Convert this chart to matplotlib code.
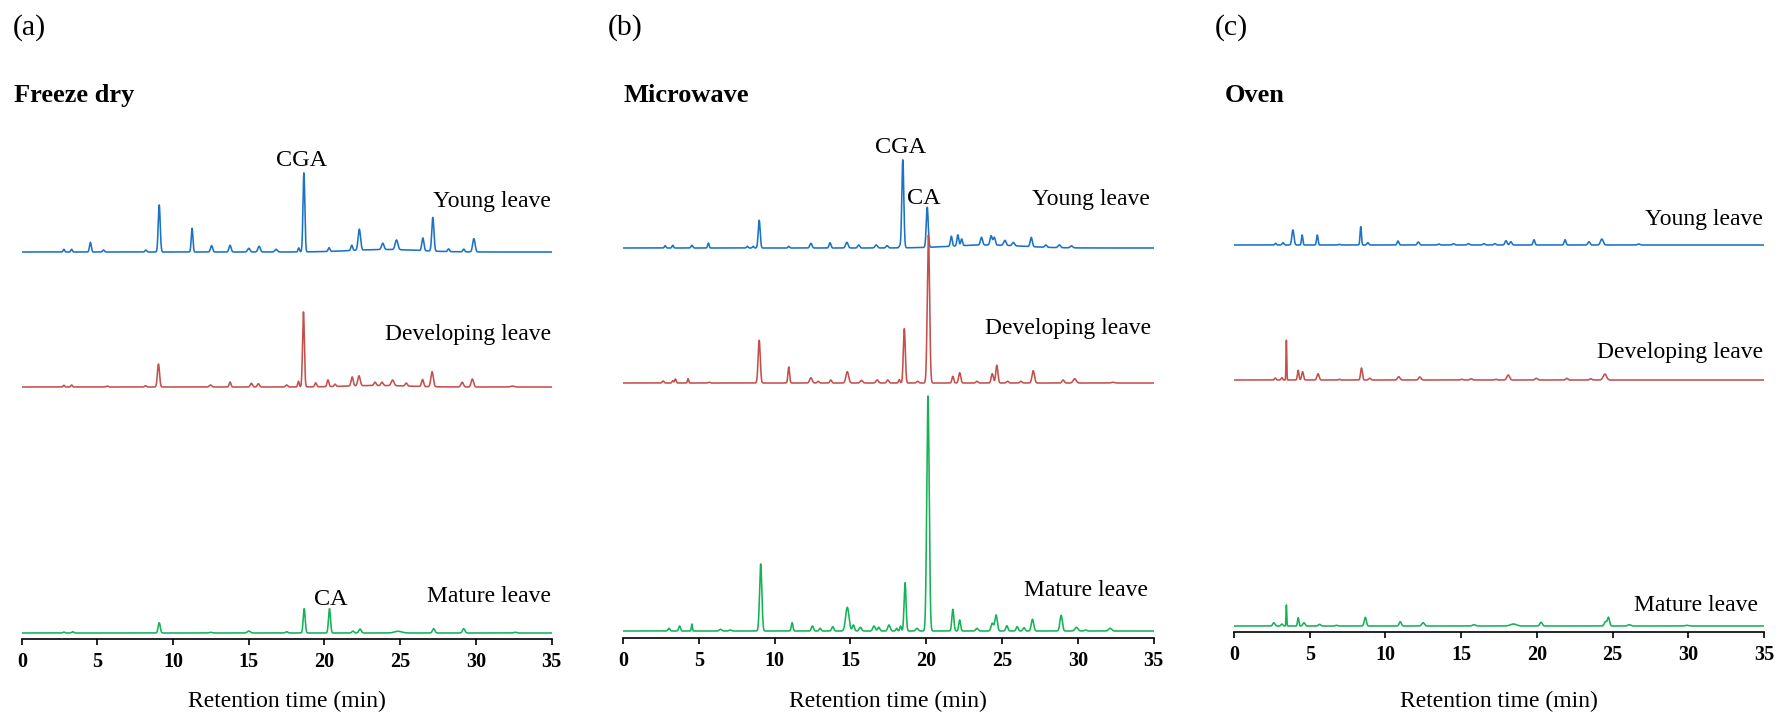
import numpy as np
import matplotlib
matplotlib.use("Agg")
import matplotlib.pyplot as plt

# peak tables: (retention time min, height a.u., sigma min)
freeze_young = [(2.78, 2.7, .05), (3.29, 2.7, .05), (4.53, 9.7, .06), (5.4, 2, .06), (8.2, 2, .06),
                (9.08, 47, .065), (11.25, 23.7, .055), (12.54, 6.3, .07), (13.76, 6.7, .07), (15.0, 3.7, .08),
                (15.68, 5.7, .08), (16.8, 2.7, .08), (18.3, 4, .05), (18.64, 79, .06), (20.3, 3.7, .06),
                (21.8, 5.3, .06), (22.3, 21, .08), (23.85, 6.3, .08), (24.76, 9.7, .09), (26.5, 12.7, .07),
                (27.16, 33.7, .07), (28.2, 2.7, .06), (29.2, 2.7, .06), (29.87, 13.3, .08), (24.0, 2.5, 2.2)]
freeze_dev = [(2.78, 1.7, .05), (3.29, 2, .05), (5.64, 1, .06), (8.17, 1.3, .06), (9.03, 23, .07),
              (12.47, 2, .08), (13.76, 5, .06), (15.17, 3.7, .07), (15.63, 3.3, .07), (17.5, 2, .07),
              (18.28, 5.7, .05), (18.61, 75, .06), (19.42, 4, .06), (20.23, 6.7, .06), (20.7, 2.3, .06),
              (21.83, 9, .07), (22.28, 10, .08), (23.34, 3.3, .07), (23.8, 3.3, .07), (24.5, 5.7, .09),
              (25.4, 3, .07), (26.48, 7, .07), (27.11, 15, .08), (29.1, 4.7, .08), (29.77, 8, .08),
              (32.4, 1, .1), (23.5, 1.5, 2.0)]
freeze_mature = [(2.78, 1, .05), (3.36, 1.3, .06), (9.08, 10.3, .07), (12.47, .7, .08), (15.0, 2, .1),
                 (17.5, 1.3, .08), (18.66, 24.3, .065), (20.33, 24.3, .065), (21.88, 2, .07), (22.35, 4, .08),
                 (24.86, 1.7, .25), (27.21, 4.3, .08), (29.2, 4.3, .08), (32.6, .7, .1)]

micro_young = [(2.78, 2.3, .05), (3.28, 2.7, .05), (4.54, 2.7, .06), (5.63, 5, .05), (8.2, 1.7, .05),
               (8.58, 1.7, .05), (8.98, 27.7, .065), (10.93, 1.7, .05), (12.39, 4.7, .07), (13.65, 5.3, .06),
               (14.76, 5.7, .08), (15.54, 3, .07), (16.7, 3, .08), (17.41, 2.3, .07), (18.24, 1.7, .05),
               (18.45, 88, .065), (20.06, 40, .065), (21.65, 10, .06), (22.08, 11, .06), (22.33, 6.7, .06),
               (23.64, 7.7, .07), (24.27, 9.3, .07), (24.48, 7.7, .07), (25.18, 5, .08), (25.74, 3.3, .08),
               (26.92, 9.3, .07), (27.88, 2.3, .07), (28.77, 2.7, .08), (29.57, 2, .08), (24.0, 3, 2.3)]
micro_dev = [(2.65, 2, .06), (3.28, 2.3, .05), (3.46, 4, .05), (4.29, 4.3, .04), (5.68, .7, .06),
             (8.98, 42.7, .07), (10.93, 16, .055), (12.39, 5.3, .08), (12.87, 1.7, .06), (13.7, 3, .06),
             (14.79, 11.3, .09), (15.72, 2.7, .08), (16.76, 3, .08), (17.46, 3, .07), (18.22, 3.3, .05),
             (18.55, 54.3, .065), (19.43, 1.7, .07), (20.14, 148, .075), (21.75, 6.7, .06), (22.2, 10.3, .07),
             (23.34, 1.7, .07), (24.35, 9.3, .07), (24.65, 17.7, .07), (25.36, 1.7, .07), (26.24, 1.7, .07),
             (27.05, 12.3, .08), (29.02, 3, .07), (29.78, 4.3, .1), (32.3, .7, .1)]
micro_mature = [(3.03, 2.7, .06), (3.73, 5, .06), (4.54, 7, .035), (6.43, 1.7, .08), (7.07, 1, .08),
                (9.08, 67, .075), (11.15, 8.3, .055), (12.49, 5, .07), (13.0, 2.7, .06), (13.83, 4.3, .07),
                (14.79, 23.7, .11), (15.19, 6, .07), (15.65, 3.7, .08), (16.55, 5, .08), (16.86, 3.7, .07),
                (17.54, 6, .08), (18.04, 2.7, .05), (18.3, 5, .05), (18.6, 48.3, .065), (19.38, 2.7, .08),
                (20.11, 235, .08), (21.75, 21.7, .065), (22.2, 11, .06), (23.34, 2.7, .08), (24.35, 7.7, .08),
                (24.6, 16, .08), (25.31, 5.3, .07), (25.99, 4.3, .07), (26.44, 3.3, .07), (27.0, 11.7, .08),
                (28.89, 15.7, .08), (29.9, 3.7, .1), (30.5, 1, .08), (32.12, 2.7, .1)]

oven_young = [(2.75, 1.7, .05), (3.24, 2.3, .06), (3.89, 15, .07), (4.5, 10, .045), (5.5, 10, .05),
              (6.96, .7, .05), (8.37, 18.3, .045), (8.84, 2.3, .06), (10.83, 4, .06), (12.17, 3, .07),
              (13.53, 1, .06), (14.5, 1.3, .07), (15.48, 1.3, .07), (16.5, 1.3, .07), (17.23, 1.3, .07),
              (17.96, 4.3, .07), (18.28, 3.3, .07), (19.81, 5.3, .06), (21.86, 5.3, .06), (23.44, 3.3, .07),
              (24.29, 6, .09), (26.72, 1, .08)]
oven_dev = [(2.73, 2, .05), (3.16, 2.3, .05), (3.46, 39.7, .025), (4.24, 9.7, .05), (4.53, 8.3, .06),
            (5.55, 6.3, .07), (6.96, .7, .05), (8.42, 12, .06), (8.96, 1.7, .07), (10.88, 3.3, .08),
            (12.27, 3, .08), (15.04, .7, .07), (15.65, 1.3, .07), (17.3, .7, .07), (18.11, 5, .09),
            (19.96, 1.7, .08), (21.98, 1.7, .07), (23.56, 1.3, .07), (24.49, 6, .11)]
oven_mature = [(2.63, 3.3, .07), (3.16, 2, .06), (3.46, 21, .025), (4.24, 8.3, .045), (4.62, 3.3, .07),
               (5.65, 1.7, .07), (6.77, .7, .07), (8.67, 8.7, .07), (10.98, 4.3, .07), (12.49, 3.3, .09),
               (15.85, 1.3, .1), (18.45, 2, .2), (20.28, 3.7, .08), (24.53, 4.3, .08), (24.73, 8.7, .07),
               (26.1, 1.3, .1), (29.9, .7, .1)]

panels = ["Freeze dry", "Microwave", "Oven"]
tags = ["(a)", "(b)", "(c)"]
leaves = ["Young leave", "Developing leave", "Mature leave"]
traces = [[freeze_young, freeze_dev, freeze_mature],
          [micro_young, micro_dev, micro_mature],
          [oven_young, oven_dev, oven_mature]]
colors = ["#1a73c6", "#c4504c", "#14b356"]

W, H = 1778, 714
plt.rcParams["font.family"] = ["Liberation Serif", "DejaVu Serif"]
fig = plt.figure(figsize=(W / 100, H / 100), dpi=100)

t = np.linspace(0, 35, 7001)


def chrom(peaks):
    y = np.zeros_like(t)
    for rt, h, w in peaks:
        y += h * np.exp(-0.5 * ((t - rt) / w) ** 2)
    return y


# layout in pixels: left, right, axis y, trace offsets
boxes = [(21.8, 551.5, 639, (387, 252, 6)),
         (623, 1153.8, 638, (390, 255, 7)),
         (1234, 1764, 632, (387, 252, 6))]
top = 100
tag_x = [13, 608, 1215]
title_x = [14.5, 623, 1225]
label_pos = [[(34.95, 432), (34.95, 299), (34.95, 37)],
             [(34.75, 433), (34.85, 304), (34.6, 42)],
             [(34.95, 407), (34.95, 274), (34.6, 21)]]

axes = []
for i, (l, r, yb, offs) in enumerate(boxes):
    ax = fig.add_axes([l / W, 1 - yb / H, (r - l) / W, (yb - top) / H])
    ax.set_xlim(0, 35)
    ax.set_ylim(0, yb - top)
    for j in range(3):
        ax.plot(t, chrom(traces[i][j]) + offs[j], color=colors[j], lw=1.15)
        x, y = label_pos[i][j]
        ax.text(x, y, leaves[j], ha="right", va="baseline", fontsize=17)
    for s in ["left", "right", "top"]:
        ax.spines[s].set_visible(False)
    ax.spines["bottom"].set_linewidth(1.2)
    ax.set_yticks([])
    ax.set_xticks(np.arange(0, 36, 5))
    ax.tick_params(axis="x", direction="out", length=4.5, width=1.2, pad=5, labelsize=14.5)
    for lab in ax.get_xticklabels():
        lab.set_fontweight("bold")
    fig.text((l + r) / 2 / W, 1 - 707 / H, "Retention time (min)", fontsize=17,
             ha="center", va="baseline")
    fig.text(tag_x[i] / W, 1 - 35 / H, tags[i], fontsize=21.5, va="baseline")
    fig.text(title_x[i] / W, 1 - 102 / H, panels[i], fontsize=19, fontweight="bold", va="baseline")
    axes.append(ax)

axes[0].text(18.5, 473, "CGA", ha="center", va="baseline", fontsize=17.5)
axes[0].text(20.4, 34, "CA", ha="center", va="baseline", fontsize=17.5)
axes[1].text(18.3, 485, "CGA", ha="center", va="baseline", fontsize=17.5)
axes[1].text(18.7, 434, "CA", ha="left", va="baseline", fontsize=17.5)

fig.savefig("out.png", dpi=100)
